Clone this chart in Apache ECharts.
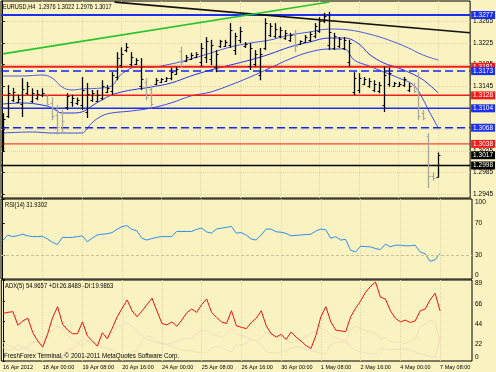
<!DOCTYPE html>
<html><head><meta charset="utf-8">
<script src="https://cdn.jsdelivr.net/npm/echarts@6/dist/echarts.min.js"></script>
<style>html,body{margin:0;padding:0;background:#FAF3C1;}#c{width:496px;height:372px;}</style>
</head><body><div id="c"></div>
<script>
const FONT = '"Liberation Sans Narrow","Liberation Sans",Arial,sans-serif';
const chartTitle = 'EURUSD,H4  1.2976 1.3022 1.2976 1.3017';
const rsiTitle = 'RSI(14) 31.9302';
const adxTitle = 'ADX(5) 54.9657 +DI:26.8489 -DI:19.9863';
const footer = 'FreshForex Terminal, \u00A9 2001-2011 MetaQuotes Software Corp.';
const timeLabels = ['16 Apr 2012','18 Apr 00:00','19 Apr 08:00','20 Apr 16:00','24 Apr 00:00','25 Apr 08:00','26 Apr 16:00','30 Apr 00:00','1 May 08:00','2 May 16:00','4 May 00:00','7 May 08:00'];
const timeTickIdx = [0,8,16,24,32,40,48,56,64,72,80,88];
const priceTicks = [1.2945,1.2985,1.3025,1.3065,1.3105,1.3145,1.3185,1.3225,1.3265];
const rsiTicks = [0,30,70,100];
const adxTicks = [0,22,44,66,89];

const opens = [1.3035,1.3090,1.3120,1.3116,1.3112,1.3132,1.3118,1.3124,1.3128,1.3127,1.3114,1.3092,1.3095,1.3106,1.3115,1.3114,1.3110,1.3098,1.3120,1.3118,1.3124,1.3135,1.3136,1.3162,1.3185,1.3212,1.3186,1.3187,1.3145,1.3152,1.3140,1.3150,1.3153,1.3155,1.3160,1.3168,1.3210,1.3192,1.3196,1.3199,1.3190,1.3200,1.3195,1.3180,1.3219,1.3220,1.3222,1.3212,1.3230,1.3219,1.3182,1.3186,1.3165,1.3215,1.3240,1.3238,1.3238,1.3235,1.3230,1.3240,1.3223,1.3227,1.3230,1.3238,1.3248,1.3265,1.3222,1.3216,1.3220,1.3216,1.3190,1.3135,1.3138,1.3150,1.3145,1.3138,1.3136,1.3110,1.3150,1.3146,1.3146,1.3147,1.3138,1.3148,1.3140,1.3095,1.3052,1.2978,1.2976];
const highs = [1.3095,1.3147,1.3142,1.3129,1.3160,1.3153,1.3141,1.3138,1.3141,1.3129,1.3124,1.3110,1.3101,1.3132,1.3129,1.3124,1.3162,1.3151,1.3138,1.3138,1.3156,1.3147,1.3171,1.3208,1.3217,1.3225,1.3208,1.3197,1.3197,1.3160,1.3147,1.3160,1.3160,1.3162,1.3179,1.3181,1.3218,1.3203,1.3207,1.3208,1.3225,1.3236,1.3231,1.3212,1.3231,1.3231,1.3262,1.3244,1.3255,1.3227,1.3225,1.3212,1.3216,1.3271,1.3262,1.3262,1.3255,1.3249,1.3244,1.3249,1.3230,1.3240,1.3246,1.3262,1.3273,1.3281,1.3283,1.3244,1.3236,1.3236,1.3231,1.3171,1.3169,1.3162,1.3160,1.3156,1.3153,1.3181,1.3179,1.3153,1.3153,1.3162,1.3151,1.3151,1.3171,1.3101,1.3058,1.2985,1.3022];
const lows = [1.3023,1.3086,1.3116,1.3114,1.3088,1.3129,1.3114,1.3119,1.3125,1.3107,1.3082,1.3055,1.3058,1.3101,1.3107,1.3110,1.3101,1.3086,1.3116,1.3116,1.3119,1.3132,1.3129,1.3156,1.3179,1.3208,1.3181,1.3184,1.3138,1.3119,1.3104,1.3147,1.3151,1.3153,1.3156,1.3166,1.3179,1.3190,1.3194,1.3197,1.3181,1.3188,1.3184,1.3171,1.3216,1.3218,1.3216,1.3203,1.3225,1.3216,1.3175,1.3181,1.3156,1.3212,1.3236,1.3234,1.3234,1.3231,1.3227,1.3208,1.3222,1.3225,1.3227,1.3234,1.3244,1.3262,1.3212,1.3212,1.3216,1.3212,1.3181,1.3129,1.3132,1.3147,1.3142,1.3134,1.3132,1.3097,1.3144,1.3144,1.3144,1.3144,1.3134,1.3132,1.3082,1.3082,1.2956,1.2970,1.2976];
const closes = [1.3085,1.3132,1.3134,1.3122,1.3140,1.3145,1.3132,1.3130,1.3133,1.3112,1.3090,1.3070,1.3080,1.3126,1.3124,1.3120,1.3138,1.3130,1.3132,1.3128,1.3145,1.3142,1.3165,1.3198,1.3205,1.3218,1.3200,1.3193,1.3158,1.3125,1.3112,1.3156,1.3158,1.3160,1.3172,1.3176,1.3190,1.3200,1.3202,1.3205,1.3215,1.3228,1.3222,1.3205,1.3228,1.3227,1.3250,1.3238,1.3248,1.3224,1.3215,1.3205,1.3205,1.3262,1.3256,1.3252,1.3250,1.3244,1.3240,1.3220,1.3228,1.3236,1.3242,1.3256,1.3265,1.3275,1.3245,1.3238,1.3232,1.3230,1.3225,1.3160,1.3160,1.3158,1.3155,1.3150,1.3148,1.3165,1.3170,1.3151,1.3150,1.3158,1.3146,1.3136,1.3090,1.3086,1.2978,1.2974,1.3017];

const upperIdx = [0,4,8,10,12,14,16,20,22,23,24,25,26,28,30,34,38,42,46,50,54,58,62,66,70,74,78,82,84,86,88];
const upperVal = [1.31639,1.31639,1.31658,1.31602,1.31435,1.31380,1.31398,1.31417,1.31454,1.31565,1.31676,1.31732,1.31787,1.31806,1.31806,1.31862,1.31954,1.32065,1.32177,1.32251,1.32306,1.32399,1.32455,1.32510,1.32492,1.32418,1.32306,1.32158,1.32065,1.31991,1.31936];
const middleIdx = [0,4,8,10,12,14,16,18,20,22,24,26,30,34,38,42,46,50,54,58,62,66,69,72,74,77,80,84,86,88];
const middleVal = [1.31120,1.31139,1.31101,1.31046,1.30953,1.30953,1.30972,1.31083,1.31194,1.31287,1.31342,1.31380,1.31435,1.31509,1.31639,1.31750,1.31843,1.31936,1.32047,1.32177,1.32269,1.32344,1.32344,1.32232,1.32047,1.31880,1.31787,1.31621,1.31491,1.31324];
const lowerIdx = [0,6,10,16,17,18,20,22,26,30,34,38,42,46,50,54,58,62,66,69,71,74,77,80,83,85,86,88];
const lowerVal = [1.30582,1.30601,1.30582,1.30582,1.30657,1.30768,1.30897,1.30953,1.30990,1.31046,1.31139,1.31268,1.31342,1.31472,1.31621,1.31787,1.31954,1.32084,1.32140,1.32140,1.31936,1.31825,1.31713,1.31602,1.31472,1.31194,1.31009,1.30675];

const trendBlack = [[22.6,1.3301],[94.4,1.3244]];
const trendGreen = [[0,1.3205],[66,1.3301]];

const levels = [
  {v:1.3277, color:'#1c2ff0', width:2, type:'solid'},
  {v:1.3181, color:'#f01c1c', width:2, type:'solid'},
  {v:1.3173, color:'#1028f4', width:1.5, type:[8,4]},
  {v:1.3128, color:'#f01c1c', width:1.5, type:'solid'},
  {v:1.3104, color:'#1c2ff0', width:1.5, type:'solid'},
  {v:1.3068, color:'#1028f4', width:1.5, type:[8,4]},
  {v:1.3038, color:'#f01c1c', width:1, type:'solid'},
  {v:1.2998, color:'#000000', width:1.5, type:'solid'},
  {v:1.3017, color:'#000000', width:0, type:'solid'}
];
const tagColor = {'#1028f4':'#1c2ff0'};

const rsi = [48,55,53,54,56,54,53,53,53.5,50,46,43,52,52,52,53,54,46.6,51,55,56,56.5,58,62,65.5,66.7,62,60.3,50.9,48.7,50.5,52,53,53,53,59.4,59.4,59.4,59.4,62,63.7,59,57.3,62.4,63.5,64.5,65.8,57.3,58,55,50,48.7,55,62.4,62.4,59,58.5,57,54,54.5,55,55.5,56,60,62.4,61.5,51,53,48.7,49.5,36,33.8,41,40.5,40.2,38,36.8,43.6,40.2,42.3,42.3,41.5,41.5,42.3,33.8,31.6,22.2,23.9,31.9];
const adx = [52.3,53.5,54.2,39.3,44,47.1,31.1,22,15.2,30,48,59.7,40.4,34,30,30,43,27.4,22,16.3,31.1,24.5,36,48.6,58,67.1,55,48.6,55,62,69,55,41.2,39.7,43,38.2,45,53,57.1,53.4,62,68.2,53.4,47.8,43,41.2,55.2,38.6,37,35.6,42.3,47,55.2,38.6,30,26.3,29.3,23.7,31.9,26.3,22,17,13.7,28,48.6,59.7,43,34,33,32.3,48.6,58,66,75.6,82,86.8,70.1,68.2,55.2,47,43,44.9,42.3,44.1,55.2,57.1,67.1,74.5,55.0];
const plusDI = [20,18,15,12,14,13,10,9,8,6,5,4,5,12,14,18,25,22,20,21,27,25,30,38,40,42,38,34,28,24,22,20,19,18,20,22,24,24,25,30,33,34,30,28,26,30,35,30,28,26,24,22,25,32,30,28,26,24,20,22,24,27,30,33,36,34,28,25,24,22,15,12,10,9,8,8,14,13,12,13,13,14,12,10,8,7,5,4,26.8];
const minusDI = [15,12,13,18,15,16,20,22,20,28,34,38,36,28,24,20,16,22,20,18,15,14,12,8,7,6,10,12,22,28,26,22,20,18,16,14,12,12,11,10,9,9,14,16,15,12,10,18,17,20,24,22,18,10,9,9,10,11,14,16,15,13,11,10,9,8,18,20,21,22,35,38,36,33,32,30,24,26,22,20,21,19,22,24,38,40,45,42,20.0];

const XMIN = -0.342, XMAX = 94.43;
const seq = a => a.map((v,i)=>[i,v]);
const pairs = (ix, vs) => ix.map((x,k)=>[x, vs[k]]);
const barData = opens.map((o,i)=>[i,o,highs[i],lows[i],closes[i]]);

const chart = echarts.init(document.getElementById('c'), null, {renderer:'canvas'});
const gridBase = {left:1, right:24, show:true, borderColor:'#000', borderWidth:1, backgroundColor:'transparent'};
const gridLine = {show:true, lineStyle:{color:'#e0d7a8', type:'dotted', width:1}};
function xAx(k, labels){
  return {type:'value', gridIndex:k, min:XMIN, max:XMAX,
    axisLine:{show:false},
    axisTick:{show:false, customValues:timeTickIdx},
    splitLine:gridLine,
    axisLabel:{show:labels, customValues:timeTickIdx, align:'left', margin:3, fontSize:5.5, fontFamily:FONT, color:'#000',
      formatter:v=>timeLabels[Math.round(v/8)]}};
}
const yLabelBase = {fontSize:6.5, fontFamily:FONT, color:'#000', margin:3};

const levelSeries = levels.map(l=>({
  type:'line', xAxisIndex:0, yAxisIndex:0, data:[[XMIN, l.v],[XMAX, l.v]], showSymbol:false, silent:true, z:3,
  lineStyle:{color:l.color, width:l.width, type:l.type},
  endLabel:{show:true, distance:1, formatter:l.v.toFixed(4), color:'#fff', backgroundColor:tagColor[l.color]||l.color,
    fontSize:6.5, fontFamily:FONT, padding:[1,2,0,2], lineHeight:7}
}));

const option = {
  animation:false,
  backgroundColor:'#FAF3C1',
  grid:[
    Object.assign({top:1, height:197}, gridBase),
    Object.assign({top:199, height:80}, gridBase),
    Object.assign({top:280, height:81}, gridBase)
  ],
  xAxis:[xAx(0,false), xAx(1,false), xAx(2,true)],
  yAxis:[
    {type:'value', gridIndex:0, position:'right', min:1.29377, max:1.33030,
      axisLine:{show:true, lineStyle:{color:'#000'}},
      axisTick:{show:true, length:2, customValues:priceTicks, lineStyle:{color:'#000'}},
      splitLine:gridLine,
      axisLabel:Object.assign({customValues:priceTicks, formatter:v=>v.toFixed(4)}, yLabelBase)},
    {type:'value', gridIndex:1, position:'right', min:0, max:100,
      axisLine:{show:true, lineStyle:{color:'#000'}},
      axisTick:{show:true, length:2, customValues:rsiTicks, lineStyle:{color:'#000'}},
      splitLine:{show:false},
      axisLabel:Object.assign({customValues:rsiTicks, verticalAlignMaxLabel:'top', verticalAlignMinLabel:'bottom'}, yLabelBase)},
    {type:'value', gridIndex:2, position:'right', min:0, max:89,
      axisLine:{show:true, lineStyle:{color:'#000'}},
      axisTick:{show:true, length:2, customValues:adxTicks, lineStyle:{color:'#000'}},
      splitLine:{show:false},
      axisLabel:Object.assign({customValues:adxTicks, verticalAlign:'top', verticalAlignMinLabel:'bottom', verticalAlignMaxLabel:'top'}, yLabelBase)}
  ],
  series:[
    {type:'line', xAxisIndex:0, yAxisIndex:0, data:pairs(upperIdx, upperVal), showSymbol:false, smooth:0.4,
      lineStyle:{color:'#4a5ae4', width:1}, z:2},
    {type:'line', xAxisIndex:0, yAxisIndex:0, data:pairs(middleIdx, middleVal), showSymbol:false, smooth:0.4,
      lineStyle:{color:'#2233ee', width:1}, z:2},
    {type:'line', xAxisIndex:0, yAxisIndex:0, data:pairs(lowerIdx, lowerVal), showSymbol:false, smooth:0.4,
      lineStyle:{color:'#3a4be6', width:1}, z:2}
  ].concat(levelSeries).concat([
    {type:'line', xAxisIndex:0, yAxisIndex:0, data:trendBlack, showSymbol:false, clip:true,
      lineStyle:{color:'#111', width:1.6}, z:3},
    {type:'line', xAxisIndex:0, yAxisIndex:0, data:trendGreen, showSymbol:false, clip:true,
      lineStyle:{color:'#27c427', width:1.6}, z:3},
    {type:'custom', xAxisIndex:0, yAxisIndex:0, data:barData, clip:true, z:4,
      encode:{x:0, y:[1,2,3,4]},
      renderItem:function(params, api){
        const i = api.value(0);
        const o = api.coord([i, api.value(1)]);
        const h = api.coord([i, api.value(2)]);
        const l = api.coord([i, api.value(3)]);
        const c = api.coord([i, api.value(4)]);
        const up = api.value(4) >= api.value(1);
        const col = up ? '#000000' : '#a8a898';
        const x = Math.round(h[0]) + 0.5;
        return {type:'group', children:[
          {type:'line', shape:{x1:x, y1:h[1], x2:x, y2:l[1]}, style:{stroke:col, lineWidth:1.3}},
          {type:'line', shape:{x1:x-2, y1:Math.round(o[1])+0.5, x2:x, y2:Math.round(o[1])+0.5}, style:{stroke:col, lineWidth:1}},
          {type:'line', shape:{x1:x, y1:Math.round(c[1])+0.5, x2:x+2, y2:Math.round(c[1])+0.5}, style:{stroke:col, lineWidth:1}}
        ]};
      }},
    {type:'line', xAxisIndex:1, yAxisIndex:1, data:seq(rsi), showSymbol:false,
      lineStyle:{color:'#2d8cf0', width:1},
      markLine:{silent:true, symbol:['none','none'], label:{show:false}, precision:2,
        data:[{yAxis:30}], lineStyle:{color:'#c9c09a', type:[3,2], width:1}}},
    {type:'line', xAxisIndex:2, yAxisIndex:2, data:seq(plusDI), showSymbol:false,
      lineStyle:{color:'#f3dcc6', width:1}},
    {type:'line', xAxisIndex:2, yAxisIndex:2, data:seq(minusDI), showSymbol:false,
      lineStyle:{color:'#efe0bc', width:1}},
    {type:'line', xAxisIndex:2, yAxisIndex:2, data:seq(adx), showSymbol:false,
      lineStyle:{color:'#f01010', width:1}, z:3}
  ]),
  graphic:[
    {type:'text', x:3, y:7, scaleX:0.8, z:10, style:{text:chartTitle, fontSize:7, fontFamily:FONT, fill:'#000', verticalAlign:'middle'}},
    {type:'text', x:5, y:205, scaleX:0.82, z:10, style:{text:rsiTitle, fontSize:7, fontFamily:FONT, fill:'#000', verticalAlign:'middle'}},
    {type:'text', x:5, y:286, scaleX:0.84, z:10, style:{text:adxTitle, fontSize:7, fontFamily:FONT, fill:'#000', verticalAlign:'middle'}},
    {type:'text', x:4, y:356.5, scaleX:0.89, z:10, style:{text:footer, fontSize:7, fontFamily:FONT, fill:'#000', verticalAlign:'middle'}}
  ]
};
chart.setOption(option);
</script>
</body></html>
